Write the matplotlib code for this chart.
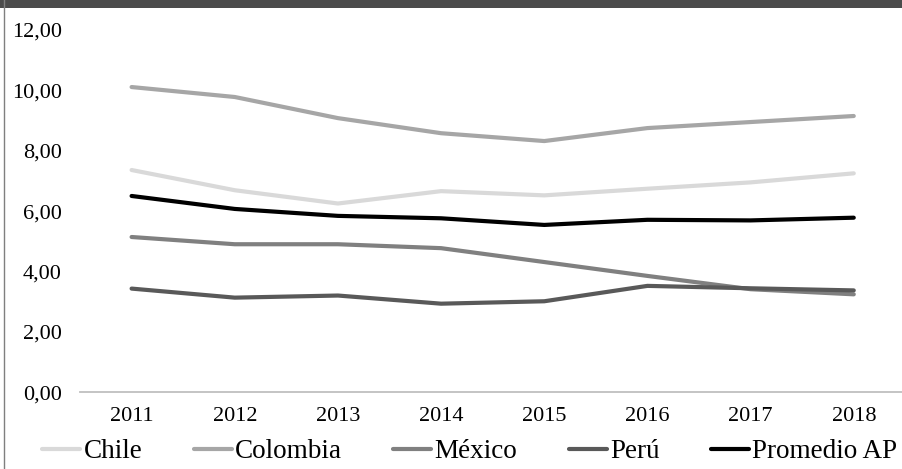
import matplotlib.pyplot as plt
from matplotlib.patches import Rectangle
from matplotlib.lines import Line2D

plt.rcParams["font.family"] = ["Liberation Serif", "DejaVu Serif"]

years = [2011, 2012, 2013, 2014, 2015, 2016, 2017, 2018]
chile = [7.36, 6.69, 6.25, 6.66, 6.52, 6.74, 6.95, 7.25]
colombia = [10.11, 9.78, 9.08, 8.58, 8.32, 8.75, 8.95, 9.15]
mexico = [5.14, 4.90, 4.90, 4.77, 4.31, 3.85, 3.41, 3.24]
peru = [3.43, 3.13, 3.20, 2.93, 3.01, 3.52, 3.44, 3.37]
promedio = [6.50, 6.07, 5.84, 5.76, 5.54, 5.71, 5.69, 5.78]

series = [
    ("Chile", chile, "#d9d9d9"),
    ("Colombia", colombia, "#a6a6a6"),
    ("México", mexico, "#808080"),
    ("Perú", peru, "#595959"),
    ("Promedio AP", promedio, "#000000"),
]

fig = plt.figure(figsize=(9.03, 4.69), dpi=100)
ax = fig.add_axes([0.0886, 0.164, 0.914, 0.772])

for name, vals, col in series:
    ax.plot(years, vals, color=col, linewidth=3.0, label=name,
            solid_capstyle="round", solid_joinstyle="round")

ax.set_xlim(2010.5, 2018.5)
ax.set_ylim(0, 12)
ax.set_yticks(range(0, 13, 2))
ax.set_yticklabels([f"{v},00" for v in range(0, 13, 2)])
ax.set_xticks(years)
ax.tick_params(axis="y", length=0, pad=13, labelsize=16)
ax.tick_params(axis="x", length=0, pad=11, labelsize=16)
for side in ["top", "right", "left"]:
    ax.spines[side].set_visible(False)
ax.spines["bottom"].set_color("#bfbfbf")
ax.spines["bottom"].set_linewidth(1.3)

# dark header strip and left frame line
fig.patches.append(Rectangle((0, 1 - 8 / 469), 1, 8 / 469, transform=fig.transFigure,
                             facecolor="#4b4b4b", edgecolor="none"))
fig.lines.append(Line2D([4 / 903, 4 / 903], [0, 1], transform=fig.transFigure,
                        color="#7f7f7f", linewidth=1))

fig.legend(loc="lower left", bbox_to_anchor=(0.02, -0.042), ncol=5, frameon=False,
           fontsize=19.5, handlelength=1.4, handletextpad=0.12, columnspacing=1.9)

fig.savefig("out.png", dpi=100)
